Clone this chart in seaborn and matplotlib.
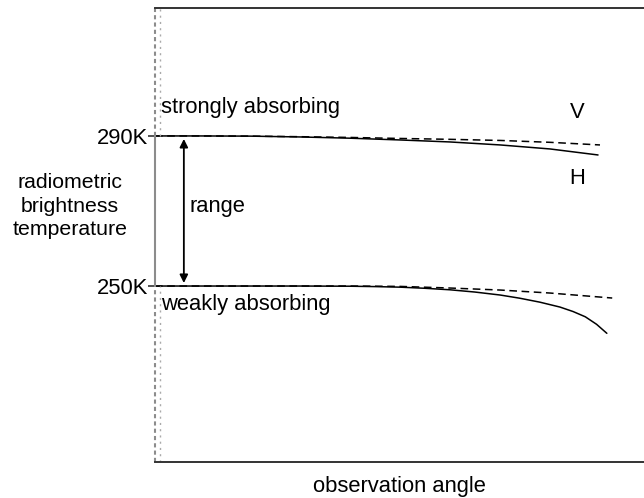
import matplotlib
matplotlib.use("Agg")
import matplotlib.pyplot as plt
import seaborn as sns
import numpy as np
import pandas as pd

sns.set_style("white")
plt.rcParams['font.family'] = ['Liberation Sans', 'DejaVu Sans']
plt.rcParams['text.color'] = 'black'
plt.rcParams['axes.labelcolor'] = 'black'
plt.rcParams['ytick.color'] = 'black'

# observation angle (arbitrary units) and brightness temperature (K)
strong_h_x = [0, 9.2, 19.4, 29.7, 39.9, 50.1, 60.3, 70.6, 80.8, 90.6]
strong_h_y = [290.0, 290.0, 289.95, 289.73, 289.4, 288.93, 288.4, 287.6, 286.53, 284.93]
strong_v_x = [0, 9.2, 19.4, 29.7, 39.9, 50.1, 60.3, 70.6, 80.8, 91.0]
strong_v_y = [290.0, 290.0, 289.95, 289.8, 289.6, 289.33, 289.1, 288.8, 288.3, 287.6]
weak_v_x = [0, 9.2, 19.4, 29.7, 39.9, 50.1, 60.3, 70.6, 80.8, 93.5]
weak_v_y = [250.0, 250.0, 250.0, 250.0, 250.0, 249.9, 249.47, 248.93, 248.13, 246.8]
weak_h_x = [0, 9.2, 19.4, 29.7, 39.9, 45.0, 50.1, 55.2, 60.3, 65.4, 70.6, 74.6, 78.7,
            82.8, 85.5, 88.0, 90.3, 92.4]
weak_h_y = [250.0, 250.0, 250.0, 250.0, 249.95, 249.85, 249.7, 249.4, 249.0, 248.4, 247.6,
            246.75, 245.7, 244.4, 243.2, 241.8, 239.8, 237.4]

ytick_vals = [250, 290]
ytick_labels = ["250K", "290K"]

fig = plt.figure(figsize=(6.44, 4.98), dpi=100)
ax = fig.add_axes([155/644, 1 - 462/498, 1 - 155/644, (462 - 8)/498])

XMAX = (644 - 155) / 4.89
YMIN, YMAX = 203.1, 324.1
ax.set_xlim(0, XMAX)
ax.set_ylim(YMIN, YMAX)

kw = dict(color="black", linewidth=1.1, ax=ax, legend=False)
sns.lineplot(x=strong_h_x, y=strong_h_y, **kw)
sns.lineplot(x=weak_h_x, y=weak_h_y, **kw)
sns.lineplot(x=strong_v_x, y=strong_v_y, linestyle=(0, (5, 3)), **kw)
sns.lineplot(x=weak_v_x, y=weak_v_y, linestyle=(0, (5, 3)), **kw)

# spines
for s in ["right", "left"]:
    ax.spines[s].set_visible(False)
for s in ["top", "bottom"]:
    ax.spines[s].set_color("#333333")
    ax.spines[s].set_linewidth(1.4)

# left axis: dotted outside the range, solid inside
gray = "#8c8c8c"
ax.plot([0, 0], [YMIN, 250], color=gray, lw=1.5, ls=(0, (2, 1.5)), clip_on=False)
ax.plot([0, 0], [250, 290], color=gray, lw=1.5, clip_on=False)
ax.plot([0, 0], [290, YMAX], color=gray, lw=1.5, ls=(0, (2, 1.5)), clip_on=False)
off = 4.5 / 4.89
ax.plot([off, off], [YMIN, 250], color="#aaaaaa", lw=1.0, ls=(0, (1.5, 3)), clip_on=False)
ax.plot([off, off], [290, YMAX], color="#aaaaaa", lw=1.0, ls=(0, (1.5, 3)), clip_on=False)

FS = 15.8
ax.set_yticks(ytick_vals)
ax.set_yticklabels(ytick_labels, fontsize=FS)
ax.tick_params(axis="y", direction="out", length=5, width=1.2, color="#333333", pad=0, left=True)
ax.set_xticks([])

ax.set_xlabel("observation angle", fontsize=FS, labelpad=10)

ax.text(-85/4.89, 271.3, "radiometric\nbrightness\ntemperature", ha="center", va="center",
        fontsize=15.3, linespacing=1.32, clip_on=False)

# range arrow
ax.annotate("", xy=(5.9, 250.8), xytext=(5.9, 289.2),
            arrowprops=dict(arrowstyle="<|-|>", color="black", lw=1.3,
                            mutation_scale=12, shrinkA=0, shrinkB=0))
ax.text(7.0, 271.3, "range", fontsize=FS, va="center", ha="left")

ax.text(1.2, 297.5, "strongly absorbing", fontsize=FS, va="center", ha="left")
ax.text(1.2, 245.0, "weakly absorbing", fontsize=FS, va="center", ha="left")
ax.text(86.3, 296.2, "V", fontsize=FS, va="center", ha="center")
ax.text(86.3, 278.6, "H", fontsize=FS, va="center", ha="center")

fig.savefig("out.png", dpi=100)
